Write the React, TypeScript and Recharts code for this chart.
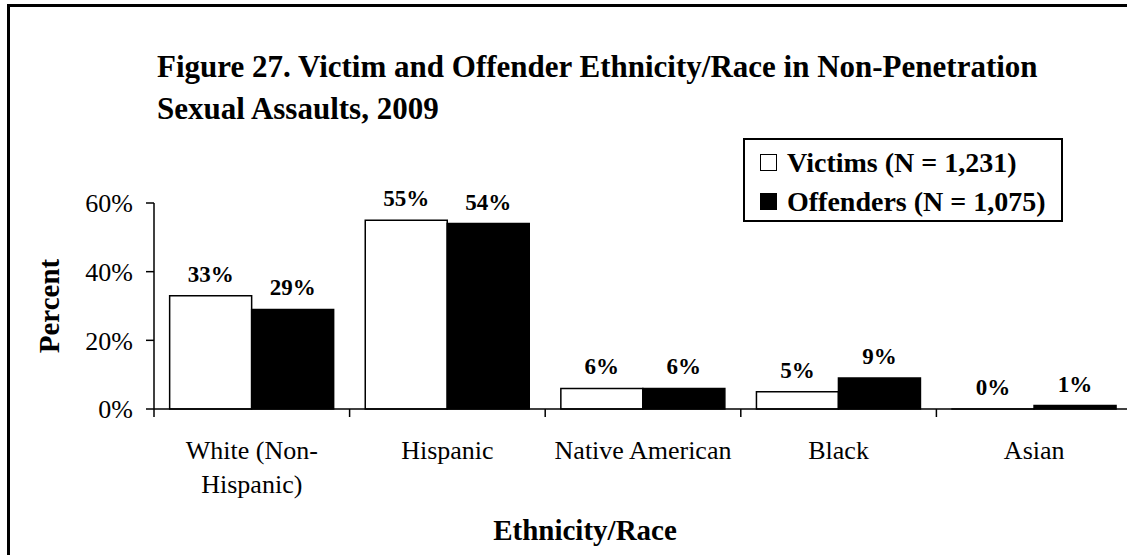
import { BarChart, Bar, XAxis, YAxis, LabelList, Label, Legend } from "recharts";

const categories = ["White (Non-Hispanic)", "Hispanic", "Native American", "Black", "Asian"];
const categoryLines = [["White (Non-", "Hispanic)"], ["Hispanic"], ["Native American"], ["Black"], ["Asian"]];
const victims = [33, 55, 6, 5, 0];
const offenders = [29, 54, 6, 9, 1];
const yTicks = [0, 20, 40, 60];

const data = categories.map((name, i) => ({
  name,
  victims: victims[i],
  offenders: offenders[i],
}));

const FONT = '"Liberation Serif", "Times New Roman", serif';
const CHART_W = 1160;
const CHART_H = 560;
const PLOT_LEFT = 154;
const PLOT_RIGHT = 1132;

function CategoryTick(props: any) {
  const { x, y, payload, index } = props;
  const half = payload?.offset || (PLOT_RIGHT - PLOT_LEFT) / categories.length / 2;
  const lines = categoryLines[index] || [String(payload.value)];
  return (
    <g>
      <line x1={x - half} x2={x - half} y1={y} y2={y + 8} stroke="#000" strokeWidth={1.5} />
      {index === categories.length - 1 && (
        <line x1={x + half} x2={x + half} y1={y} y2={y + 8} stroke="#000" strokeWidth={1.5} />
      )}
      <text x={x} y={y + 50} textAnchor="middle" fontFamily={FONT} fontSize={26} fill="#000">
        {lines.map((l, i) => (
          <tspan key={i} x={x} dy={i === 0 ? 0 : 34}>
            {l}
          </tspan>
        ))}
      </text>
    </g>
  );
}

function LegendBox() {
  const items = [
    { label: "Victims (N = 1,231)", fill: "#fff" },
    { label: "Offenders (N = 1,075)", fill: "#000" },
  ];
  return (
    <div
      style={{
        border: "2px solid #000",
        background: "#fff",
        boxSizing: "border-box",
        width: 320,
        height: 84,
        padding: "3px 0 0 15px",
        fontFamily: FONT,
        fontWeight: "bold",
        fontSize: 28,
        lineHeight: "40px",
      }}
    >
      {items.map((it) => (
        <div key={it.label} style={{ display: "flex", alignItems: "center", height: 39, whiteSpace: "nowrap" }}>
          <span
            style={{
              display: "inline-block",
              width: 17,
              height: 17,
              boxSizing: "border-box",
              border: "1px solid #000",
              background: it.fill,
              marginRight: 10,
            }}
          />
          {it.label}
        </div>
      ))}
    </div>
  );
}

const pct = (v: any) => `${v}%`;

export default function App() {
  return (
    <div style={{ position: "absolute", left: 0, top: 0, width: 1127, height: 555, overflow: "hidden", background: "#fff" }}>
      <div
        style={{
          position: "absolute",
          left: 7,
          top: 4,
          width: 1200,
          height: 620,
          border: "3px solid #000",
          boxSizing: "border-box",
        }}
      />
      <div
        style={{
          position: "absolute",
          left: 157,
          top: 46,
          fontFamily: FONT,
          fontWeight: "bold",
          fontSize: 31,
          lineHeight: "42px",
          color: "#000",
          whiteSpace: "nowrap",
        }}
      >
        <div>Figure 27. Victim and Offender Ethnicity/Race in Non-Penetration</div>
        <div>Sexual Assaults, 2009</div>
      </div>
      <div style={{ position: "absolute", left: 0, top: 0 }}>
        <BarChart
          width={CHART_W}
          height={CHART_H}
          data={data}
          margin={{ top: 203, right: CHART_W - PLOT_RIGHT, bottom: 0, left: 0 }}
          barCategoryGap="8%"
          barGap={0}
        >
          <XAxis
            dataKey="name"
            height={CHART_H - 409}
            axisLine={{ stroke: "#000", strokeWidth: 1.5 }}
            tickLine={false}
            tickSize={0}
            tickMargin={0}
            interval={0}
            tick={<CategoryTick />}
          >
            <Label
              content={(p: any) => {
                const vb = p.viewBox;
                return (
                  <text
                    x={585}
                    y={vb.y + 131}
                    textAnchor="middle"
                    fontFamily={FONT}
                    fontWeight="bold"
                    fontSize={29}
                    fill="#000"
                  >
                    Ethnicity/Race
                  </text>
                );
              }}
            />
          </XAxis>
          <YAxis
            width={PLOT_LEFT}
            domain={[0, 60]}
            ticks={yTicks}
            tickFormatter={pct}
            axisLine={{ stroke: "#000", strokeWidth: 1.5 }}
            tickLine={{ stroke: "#000", strokeWidth: 1.5 }}
            tickSize={8}
            tickMargin={13}
            tick={{ fill: "#000", fontFamily: FONT, fontSize: 26 }}
          >
            <Label
              content={(p: any) => {
                const vb = p.viewBox;
                const cx = vb.x + 59;
                const cy = vb.y + vb.height / 2;
                return (
                  <text
                    x={cx}
                    y={cy}
                    transform={`rotate(-90 ${cx} ${cy})`}
                    textAnchor="middle"
                    fontFamily={FONT}
                    fontWeight="bold"
                    fontSize={29}
                    fill="#000"
                  >
                    Percent
                  </text>
                );
              }}
            />
          </YAxis>
          <Legend
            layout="vertical"
            align="center"
            verticalAlign="middle"
            content={() => <LegendBox />}
            wrapperStyle={{ position: "absolute", left: 743, top: 138, width: 320, height: 84 }}
          />
          <Bar
            dataKey="victims"
            name="Victims (N = 1,231)"
            fill="#fff"
            stroke="#000"
            strokeWidth={1.5}
            minPointSize={(v: any) => (v === 0 ? 0.01 : 0)}
            isAnimationActive={false}
          >
            <LabelList
              dataKey="victims"
              position="top"
              offset={14}
              formatter={pct}
              fill="#000"
              fontFamily={FONT}
              fontWeight="bold"
              fontSize={23}
            />
          </Bar>
          <Bar dataKey="offenders" name="Offenders (N = 1,075)" fill="#000" stroke="#000" strokeWidth={1.5} isAnimationActive={false}>
            <LabelList
              dataKey="offenders"
              position="top"
              offset={14}
              formatter={pct}
              fill="#000"
              fontFamily={FONT}
              fontWeight="bold"
              fontSize={23}
            />
          </Bar>
        </BarChart>
      </div>
    </div>
  );
}
